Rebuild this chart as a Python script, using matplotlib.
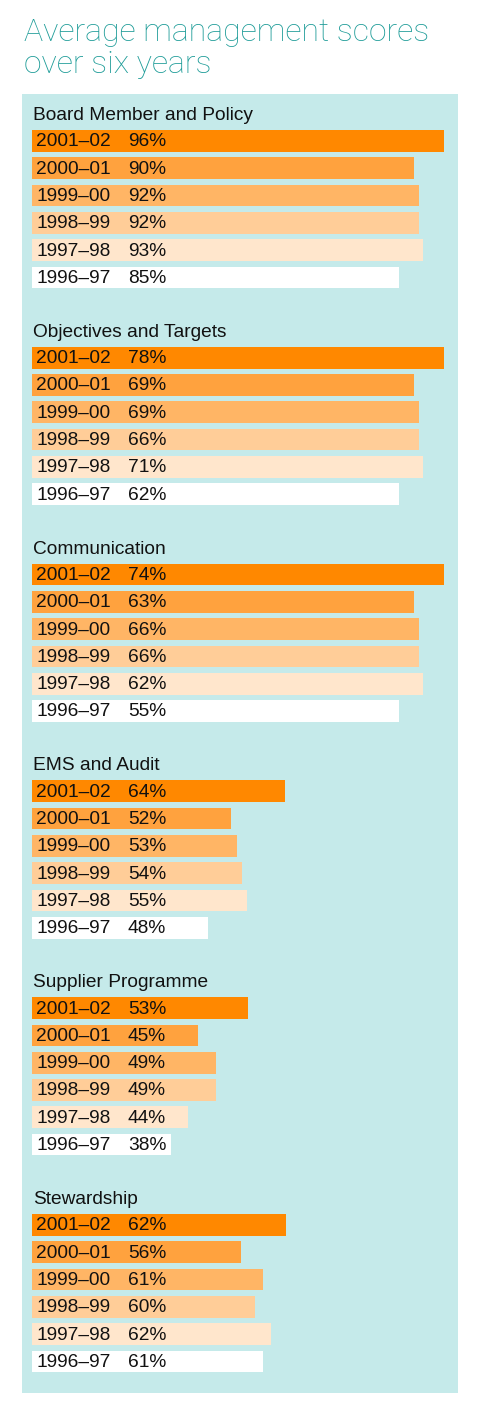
'Average management scores over six years - horizontal bar panels'
import matplotlib.pyplot as plt
from matplotlib.patches import Rectangle

# ---- data ----
groups = ['Board Member and Policy', 'Objectives and Targets', 'Communication',
          'EMS and Audit', 'Supplier Programme', 'Stewardship']
years = ['2001–02', '2000–01', '1999–00', '1998–99', '1997–98', '1996–97']

board_scores = [96, 90, 92, 92, 93, 85]
objectives_scores = [78, 69, 69, 66, 71, 62]
communication_scores = [74, 63, 66, 66, 62, 55]
ems_scores = [64, 52, 53, 54, 55, 48]
supplier_scores = [53, 45, 49, 49, 44, 38]
stewardship_scores = [62, 56, 61, 60, 62, 61]

# drawn bar lengths (percent of the panel width), as they appear in the picture
board_bars = [100, 92.7, 93.9, 93.9, 94.9, 89.1]
objectives_bars = [100, 92.7, 93.9, 93.9, 94.9, 89.1]
communication_bars = [100, 92.7, 93.9, 93.9, 94.9, 89.1]
ems_bars = [61.4, 48.3, 49.8, 51.0, 52.2, 42.7]
supplier_bars = [52.4, 40.3, 44.7, 44.7, 37.9, 33.7]
stewardship_bars = [61.7, 50.7, 56.1, 54.1, 58.0, 56.1]

year_colors = ['#ff8800', '#ffa23e', '#ffb565', '#ffcd98', '#ffe6cc', '#ffffff']


def main():
    W, H = 479, 1415
    fig = plt.figure(figsize=(W / 100, H / 100), dpi=100)
    fig.patch.set_facecolor('white')
    font = ['Liberation Sans', 'DejaVu Sans']
    title_font = ['Roboto', 'Liberation Sans']

    # title
    fig.text(24 / W, 1 - 41 / H, 'Average management scores', color='#1e9c98',
             fontsize=23, family=title_font, weight='light',
             ha='left', va='baseline')
    fig.text(24 / W, 1 - 73 / H, 'over six years', color='#1e9c98',
             fontsize=23, family=title_font, weight='light',
             ha='left', va='baseline')

    # light teal panel
    fig.add_artist(Rectangle((22 / W, 1 - 1393 / H), (458 - 22) / W, (1393 - 94) / H,
                             transform=fig.transFigure, facecolor='#c5eaea',
                             edgecolor='none', zorder=0))

    scores = [board_scores, objectives_scores, communication_scores,
              ems_scores, supplier_scores, stewardship_scores]
    bars = [board_bars, objectives_bars, communication_bars,
            ems_bars, supplier_bars, stewardship_bars]

    pitch = 27.3      # row pitch in px
    bar_h = 21.7      # bar height in px
    for g, name in enumerate(groups):
        top = 130 + g * 216.8
        ax_top = top - (pitch - bar_h) / 2
        ax = fig.add_axes([32 / W, 1 - (ax_top + 6 * pitch) / H, 412 / W, 6 * pitch / H])
        ax.set_facecolor('none')
        rows = list(range(len(years)))
        ax.barh(rows, bars[g], height=bar_h / pitch, left=0, color=year_colors)
        ax.set_xlim(0, 100)
        ax.set_ylim(5.5, -0.5)
        ax.axis('off')
        for i, (yr, sc) in enumerate(zip(years, scores[g])):
            ax.text(1.0, i + 0.2, yr, fontsize=13.8, family=font, color='#111111',
                    ha='left', va='baseline')
            ax.text(23.3, i + 0.2, f'{sc}%', fontsize=13.8, family=font, color='#111111',
                    ha='left', va='baseline')
        fig.text(33 / W, 1 - (top - 10) / H, name, fontsize=13.8, family=font,
                 color='#111111', ha='left', va='baseline')

    fig.savefig('out.png', dpi=100)


if __name__ == "__main__":
    main()
